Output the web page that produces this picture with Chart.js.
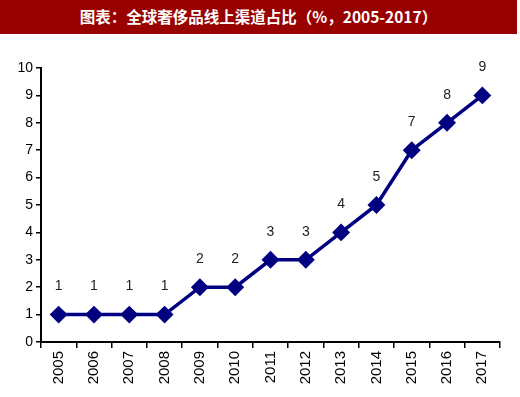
<!DOCTYPE html>
<html lang="zh">
<head>
<meta charset="UTF-8" />
<title>全球奢侈品线上渠道占比</title>
<script src="https://cdn.jsdelivr.net/npm/chart.js"></script>
<style>
  html, body { margin: 0; padding: 0; background: #fff; }
  #wrap { width: 520px; height: 397px; position: relative; overflow: hidden; }
  #titleBar {
    position: absolute; left: 0; top: 0; width: 517px; height: 34px;
    background: #990000; color: #fff; text-align: center;
    font: bold 15.5px "Noto Sans CJK SC", sans-serif; line-height: 33px;
  }
  #chartBox { position: absolute; left: 0; top: 34px; width: 520px; height: 363px; }
</style>
</head>
<body>
<div id="wrap">
  <div id="titleBar">图表：全球奢侈品线上渠道占比（%，2005-2017）</div>
  <div id="chartBox"><canvas id="c" width="520" height="363"></canvas></div>
</div>
<script>
  // chart data
  const years = ['2005', '2006', '2007', '2008', '2009', '2010', '2011', '2012', '2013', '2014', '2015', '2016', '2017'];
  const onlineShare = [1, 1, 1, 1, 2, 2, 3, 3, 4, 5, 7, 8, 9];
  const yTicks = [0, 1, 2, 3, 4, 5, 6, 7, 8, 9, 10];

  // value labels above each marker
  const valueLabels = {
    id: 'valueLabels',
    afterDatasetsDraw(chart) {
      const ctx = chart.ctx;
      const meta = chart.getDatasetMeta(0);
      ctx.save();
      ctx.font = '14px "Liberation Sans", Arial, sans-serif';
      ctx.fillStyle = '#222';
      ctx.textAlign = 'center';
      ctx.textBaseline = 'middle';
      meta.data.forEach((pt, i) => {
        ctx.fillText(String(onlineShare[i]), pt.x, pt.y - 28);
      });
      ctx.restore();
    }
  };

  new Chart(document.getElementById('c'), {
    type: 'line',
    data: {
      labels: years,
      datasets: [{
        data: onlineShare,
        borderColor: '#000080',
        backgroundColor: '#000080',
        borderWidth: 3.5,
        pointStyle: 'rectRot',
        pointRadius: 6.5,
        pointHoverRadius: 6.5,
        tension: 0,
        clip: false
      }]
    },
    options: {
      responsive: false,
      animation: false,
      layout: { padding: { top: 34, right: 20, left: 0, bottom: 0 } },
      plugins: { legend: { display: false }, tooltip: { enabled: false } },
      scales: {
        x: {
          offset: true,
          grid: { offset: true, drawOnChartArea: false, tickLength: 6, color: '#000', lineWidth: 1.5 },
          border: { color: '#000', width: 2 },
          ticks: {
            maxRotation: 90, minRotation: 90, autoSkip: false,
            color: '#000', padding: 3,
            font: { family: '"Liberation Sans", Arial, sans-serif', size: 15 }
          },
          afterFit(axis) { axis.height = 55; }
        },
        y: {
          min: 0, max: 10,
          afterBuildTicks(axis) { axis.ticks = yTicks.map(v => ({ value: v })); },
          grid: { drawOnChartArea: false, tickLength: 5, color: '#000', lineWidth: 1.5 },
          border: { color: '#000', width: 2 },
          ticks: {
            color: '#000', padding: 3,
            font: { family: '"Liberation Sans", Arial, sans-serif', size: 14 }
          },
          afterFit(axis) { axis.width = 41; }
        }
      }
    },
    plugins: [valueLabels]
  });
</script>
</body>
</html>
